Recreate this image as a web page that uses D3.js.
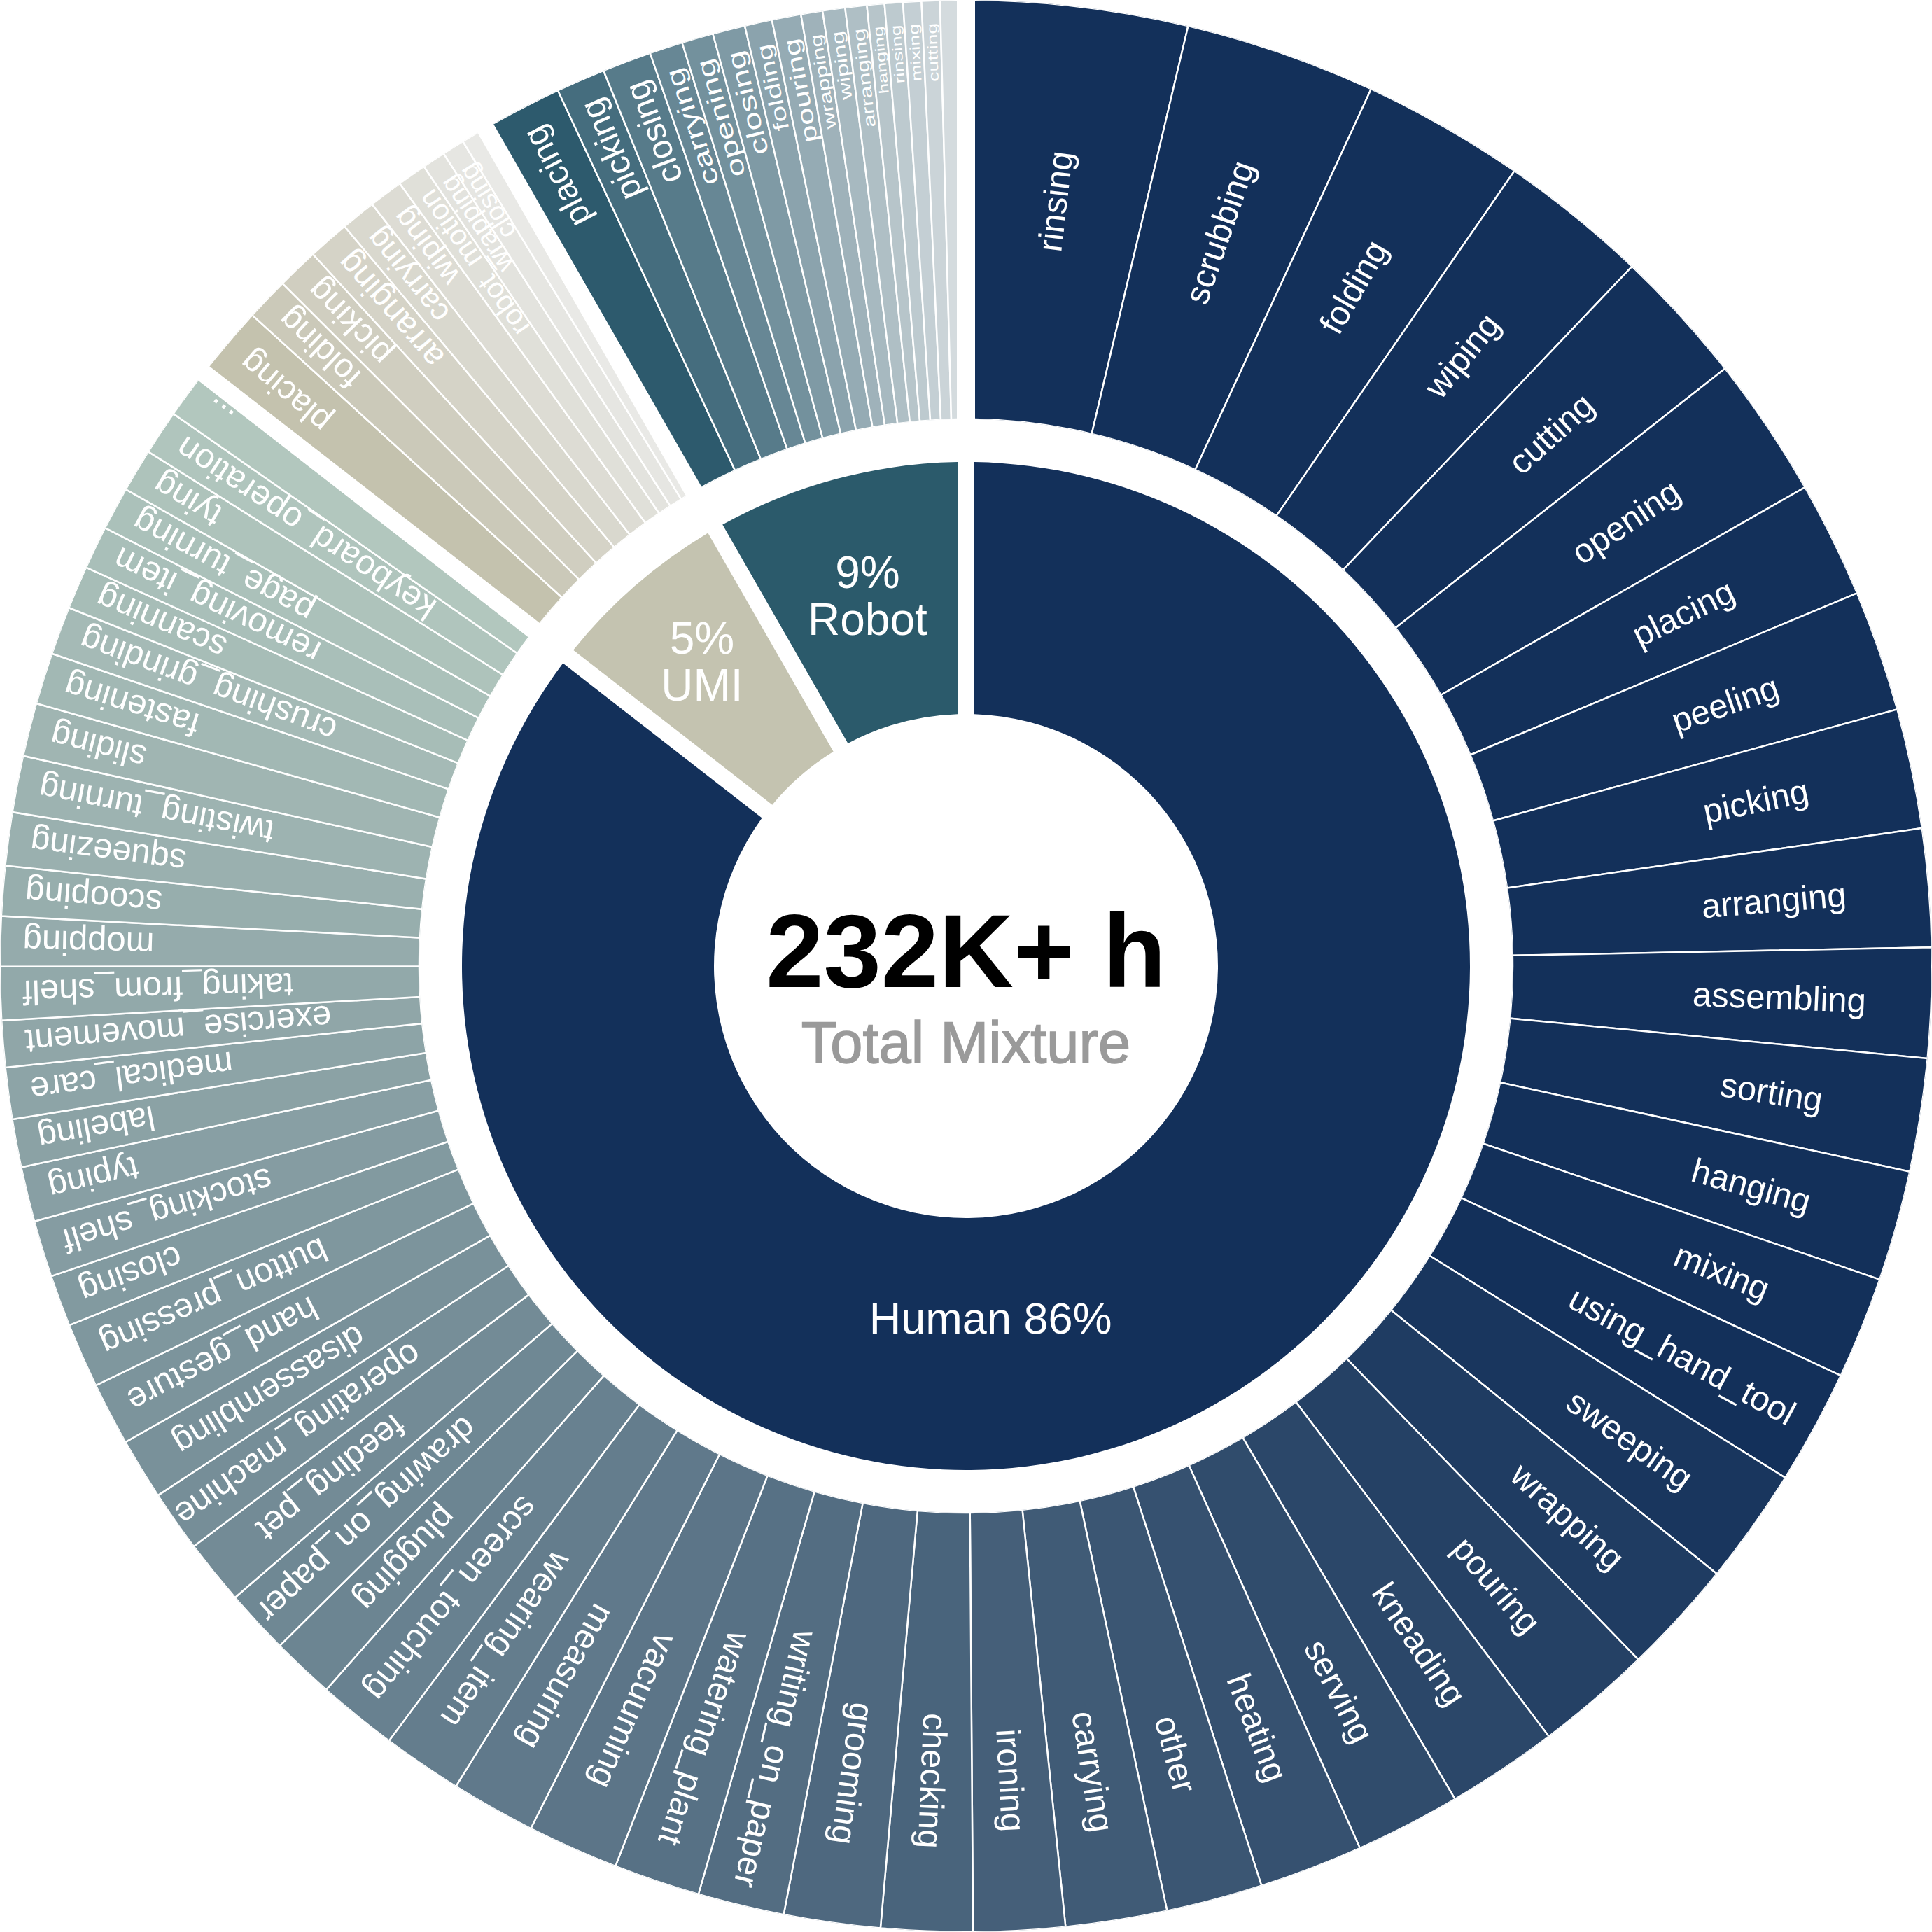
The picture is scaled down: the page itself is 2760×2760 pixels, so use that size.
<!DOCTYPE html>
<html>
<head>
<meta charset="utf-8">
<script src="https://cdn.jsdelivr.net/npm/d3@7"></script>
<style>
  html, body { margin: 0; background: #fff; }
  text { font-family: "Liberation Sans", Arial, Helvetica, sans-serif; }
</style>
</head>
<body>
<div id="chart"></div>
<script>
// data: shares of the ring (relative units, whole ring ~360)
const groups = ['Human', 'UMI', 'Robot']
const groupLabels = [['Human 86%'], ['5%', 'UMI'], ['9%', 'Robot']]
const groupColors = ['#13305a', '#c4c3b0', '#2b5a6b']

const humanTasks = ['rinsing', 'scrubbing', 'folding', 'wiping', 'cutting', 'opening', 'placing', 'peeling', 'picking', 'arranging',
  'assembling', 'sorting', 'hanging', 'mixing', 'using_hand_tool', 'sweeping', 'wrapping', 'pouring', 'kneading', 'serving',
  'heating', 'other', 'carrying', 'ironing', 'checking', 'grooming', 'writing_on_paper', 'watering_plant', 'vacuuming', 'measuring',
  'wearing_item', 'screen_touching', 'plugging', 'drawing_on_paper', 'feeding_pet', 'operating_machine', 'disassembling', 'hand_gesture', 'button_pressing', 'closing',
  'stocking_shelf', 'typing', 'labeling', 'medical_care', 'exercise_movement', 'taking_from_shelf', 'mopping', 'scooping', 'squeezing', 'twisting_turning',
  'sliding', 'fastening', 'crushing_grinding', 'scanning', 'removing_item', 'page_turning', 'tying', 'keyboard_operation', '...']
const humanValues = [13.3, 11.5, 9.8, 9.0, 8.2, 8.5, 7.0, 7.3, 7.2, 7.1,
  6.6, 6.8, 6.65, 6.15, 6.9, 7.0, 6.9, 7.0, 6.7, 6.35,
  6.25, 5.8, 6.1, 5.5, 5.5, 5.8, 5.2, 5.2, 5.5, 5.1,
  4.8, 4.8, 3.8, 3.9, 3.9, 3.7, 3.7, 3.8, 3.9, 3.1,
  3.4, 3.3, 2.9, 3.1, 2.8, 3.2, 3.0, 3.0, 3.2, 3.4,
  3.2, 3.1, 2.9, 2.6, 2.6, 2.6, 2.6, 2.7, 3.0]

const umiTasks = ['placing', 'folding', 'picking', 'arranging', 'carrying', 'wiping', 'robot_motion', 'wrapping', 'closing', '...']
const umiValues = [4.5, 2.6, 2.5, 2.5, 2.1, 2.05, 1.75, 1.4, 1.35, 1.55]

const robotTasks = ['placing', 'picking', 'closing', 'carrying', 'opening', 'closing', 'folding', 'pouring', 'wrapping', 'wiping',
  'arranging', 'hanging', 'rinsing', 'mixing', 'cutting', '...']
const robotValues = [4.85, 2.95, 2.95, 2.0, 1.9, 1.95, 1.65, 1.75, 1.3, 1.35,
  1.3, 1.05, 1.1, 1.1, 1.1, 1.54]

const totalText = '232K+ h'
const subText = 'Total Mixture'

const groupTasks = [humanTasks, umiTasks, robotTasks]
const groupValues = [humanValues, umiValues, robotValues]

const size = 2760
const cx = size / 2
const cy = size / 2
const holeR = 360
const ring1R = 720
const ring2Inner = 781
const outerR = 1380

const svg = d3.select('#chart').append('svg')
  .attr('width', size)
  .attr('height', size)
  .style('display', 'block')
svg.append('rect').attr('width', size).attr('height', size).attr('fill', '#fff')
const defs = svg.append('defs')
const g = svg.append('g').attr('transform', `translate(${cx},${cy})`)

const tree = {
  name: 'root',
  children: groups.map((name, i) => ({
    name,
    children: groupTasks[i].map((t, j) => ({ name: t, value: groupValues[i][j] })),
  })),
}
const root = d3.partition().size([2 * Math.PI, 2])(d3.hierarchy(tree).sum((d) => d.value || 0))

const deg = (rad) => rad * 180 / Math.PI

// colour runs along the ring inside each group
const leafColor = [
  d3.scaleLinear().domain([118, 306]).range(['#13305a', '#b2c7be']).clamp(true),
  d3.scaleLinear().domain([310, 329.5]).range(['#c4c2ae', '#e9e9e6']).clamp(true),
  d3.scaleLinear().domain([332.5, 359.3]).range(['#2c5a6d', '#d4dbde']).clamp(true),
]

// inner ring
const innerArc = d3.arc()
  .innerRadius(holeR)
  .outerRadius(ring1R)
  .padAngle(24 / 1000)
  .padRadius(1000)

g.selectAll('path.group')
  .data(root.children)
  .join('path')
  .attr('class', 'group')
  .attr('d', (d) => innerArc({ startAngle: d.x0, endAngle: d.x1 }))
  .attr('fill', (d, i) => groupColors[i])

// outer ring, clipped per group so gaps only sit between groups
const groupClip = d3.arc()
  .innerRadius(ring2Inner)
  .outerRadius(outerR)
  .padAngle(26 / 1000)
  .padRadius(1000)

defs.selectAll('clipPath')
  .data(root.children)
  .join('clipPath')
  .attr('id', (d, i) => `clip${i}`)
  .append('path')
  .attr('d', (d) => groupClip({ startAngle: d.x0, endAngle: d.x1 }))

const leafArc = d3.arc().innerRadius(ring2Inner).outerRadius(outerR)

root.children.forEach((grp, gi) => {
  const layer = g.append('g').attr('clip-path', `url(#clip${gi})`)
  layer.selectAll('path')
    .data(grp.children)
    .join('path')
    .attr('d', (d) => leafArc({ startAngle: d.x0, endAngle: d.x1 }))
    .attr('fill', (d) => leafColor[gi](deg((d.x0 + d.x1) / 2)))
    .attr('stroke', '#fff')
    .attr('stroke-width', 2.5)
})

// leaf labels, all radial and reading outward
const labelG = g.append('g')
root.children.forEach((grp, gi) => {
  grp.children.forEach((d, j) => {
    const a = deg((d.x0 + d.x1) / 2)
    const v = d.data.value
    const w = (d.x1 - d.x0) * 1290 // strip width near the label
    let fs = 49
    let sy = 1
    if (gi === 1) fs = Math.min(48, 26 + 9 * v)
    if (gi === 2) {
      // robot strips are thin: length follows the strip, glyphs get squeezed
      fs = Math.min(49, 1.15 * w)
      sy = Math.min(1, (0.75 * w) / (0.93 * fs))
    }
    let r
    let anchor
    if (a >= 240) {
      r = 1348
      anchor = 'end'
    } else {
      r = 1095 + 70 * Math.min(1, a / 95)
      anchor = 'middle'
    }
    const [x, y] = d3.pointRadial((a * Math.PI) / 180, r)
    labelG.append('text')
      .attr('transform', `translate(${x},${y}) rotate(${a - 90}) scale(1,${sy})`)
      .attr('text-anchor', anchor)
      .attr('dy', '0.35em')
      .attr('fill', '#fff')
      .style('font-size', `${fs}px`)
      .text(d.data.name)
  })
})

// group labels on the inner ring
const humanPos = d3.pointRadial((176 * Math.PI) / 180, 504)
g.append('text')
  .attr('x', humanPos[0])
  .attr('y', humanPos[1])
  .attr('text-anchor', 'middle')
  .attr('dy', '0.35em')
  .attr('fill', '#fff')
  .style('font-size', '63px')
  .text(groupLabels[0][0])

const groupLabelR = [0, 575, 546]
root.children.forEach((d, k) => {
  if (k === 0) return
  const mid = (d.x0 + d.x1) / 2
  const [x, y] = d3.pointRadial(mid, groupLabelR[k])
  const t = g.append('text')
    .attr('text-anchor', 'middle')
    .attr('fill', '#fff')
    .style('font-size', '64px')
  groupLabels[k].forEach((line, li) => {
    t.append('tspan')
      .attr('x', x)
      .attr('y', y - 12 + li * 67)
      .text(line)
  })
})

// centre
g.append('text')
  .attr('x', 0)
  .attr('y', 30)
  .attr('text-anchor', 'middle')
  .attr('fill', '#000')
  .style('font-size', '148px')
  .style('font-weight', 'bold')
  .text(totalText)

g.append('text')
  .attr('x', 0)
  .attr('y', 138)
  .attr('text-anchor', 'middle')
  .attr('fill', '#9a9a9a')
  .attr('stroke', '#9a9a9a')
  .attr('stroke-width', 1.6)
  .style('font-size', '83px')
  .text(subText)
</script>
</body>
</html>
